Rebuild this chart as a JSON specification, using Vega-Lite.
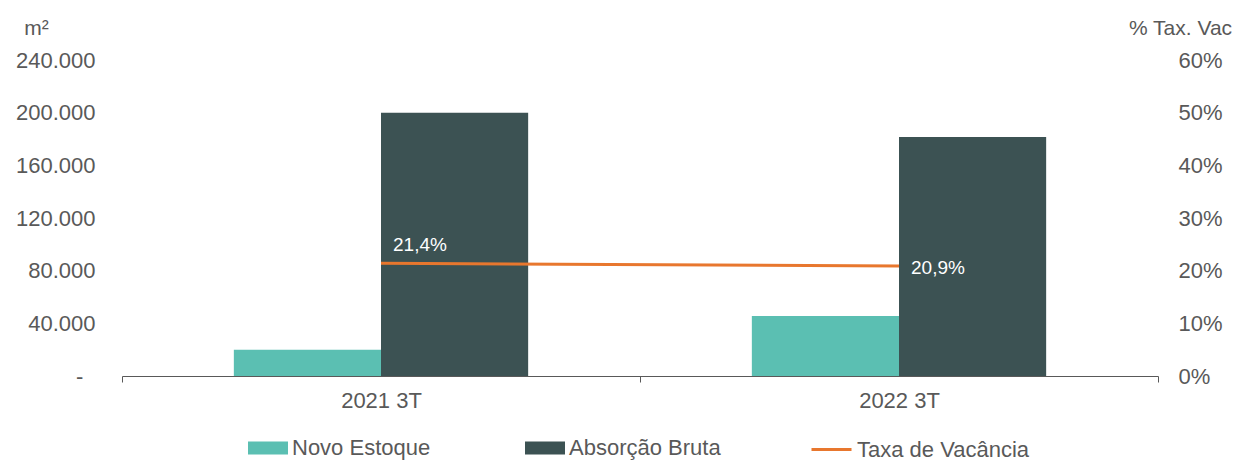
{
  "$schema": "https://vega.github.io/schema/vega-lite/v6.json",
  "width": 1036,
  "height": 316,
  "autosize": {"type": "none"},
  "padding": {"left": 122, "top": 60, "right": 79, "bottom": 85},
  "background": "#ffffff",
  "config": {
    "locale": {"number": {"decimal": ",", "thousands": ".", "grouping": [3], "currency": ["R$", ""]}},
    "view": {"stroke": null},
    "font": "Liberation Sans",
    "axis": {
      "labelFont": "Liberation Sans",
      "labelFontSize": 22,
      "labelColor": "#595959",
      "titleFont": "Liberation Sans",
      "titleFontSize": 21,
      "titleColor": "#595959",
      "titleFontWeight": "normal",
      "grid": false
    },
    "legend": {
      "labelFont": "Liberation Sans",
      "labelFontSize": 22,
      "labelColor": "#595959",
      "labelLimit": 400
    }
  },
  "datasets": {
    "bars": [
      {"periodo": "2021 3T", "serie": "Novo Estoque", "area": 20000},
      {"periodo": "2021 3T", "serie": "Absorção Bruta", "area": 200000},
      {"periodo": "2022 3T", "serie": "Novo Estoque", "area": 45500},
      {"periodo": "2022 3T", "serie": "Absorção Bruta", "area": 181500}
    ],
    "taxa": [
      {"periodo": "2021 3T", "serie": "Taxa de Vacância", "taxa": 0.214},
      {"periodo": "2022 3T", "serie": "Taxa de Vacância", "taxa": 0.209}
    ]
  },
  "encoding": {
    "x": {
      "field": "periodo",
      "type": "nominal",
      "sort": ["2021 3T", "2022 3T"],
      "scale": {"paddingInner": 0, "paddingOuter": 0},
      "axis": {
        "title": null,
        "labelAngle": 0,
        "tickBand": "extent",
        "ticks": true,
        "tickSize": 6,
        "tickColor": "#595959",
        "domainColor": "#595959",
        "domainWidth": 1,
        "labelPadding": 8
      }
    }
  },
  "layer": [
    {
      "data": {"name": "bars"},
      "mark": {"type": "bar"},
      "encoding": {
        "xOffset": {
          "field": "serie",
          "type": "nominal",
          "sort": ["Novo Estoque", "Absorção Bruta"],
          "scale": {"paddingInner": 0, "paddingOuter": 0.76}
        },
        "y": {
          "field": "area",
          "type": "quantitative",
          "scale": {"domain": [0, 240000], "nice": false},
          "axis": {
            "title": "m²",
            "values": [0, 40000, 80000, 120000, 160000, 200000, 240000],
            "format": ",.0f",
            "labelExpr": "datum.value == 0 ? '-\u00a0\u00a0\u200b' : datum.label",
            "domain": false,
            "ticks": false,
            "labelPadding": 27,
            "titleAngle": 0,
            "titleX": -86,
            "titleY": -32,
            "titleAlign": "center",
            "titleBaseline": "middle"
          }
        },
        "color": {
          "field": "serie",
          "type": "nominal",
          "sort": ["Novo Estoque", "Absorção Bruta"],
          "scale": {"domain": ["Novo Estoque", "Absorção Bruta"], "range": ["#5BBFB2", "#3C5253"]},
          "legend": {
            "orient": "none",
            "legendX": 126,
            "legendY": 368,
            "direction": "horizontal",
            "title": null,
            "symbolType": "M-1,-0.325H1V0.325H-1Z",
            "symbolSize": 1600,
            "symbolStrokeWidth": 0,
            "symbolOpacity": 1,
            "labelOffset": 4,
            "columnPadding": 94
          }
        }
      }
    },
    {
      "data": {"name": "taxa"},
      "encoding": {
        "y": {
          "field": "taxa",
          "type": "quantitative",
          "scale": {"domain": [0, 0.6], "nice": false},
          "axis": {
            "orient": "right",
            "title": "% Tax. Vac",
            "values": [0, 0.1, 0.2, 0.3, 0.4, 0.5, 0.6],
            "format": ".0%",
            "domain": false,
            "ticks": false,
            "labelPadding": 20,
            "titleAngle": 0,
            "titleX": 22,
            "titleY": -32,
            "titleAlign": "center",
            "titleBaseline": "middle"
          }
        }
      },
      "layer": [
        {
          "mark": {"type": "line", "strokeWidth": 3},
          "encoding": {
            "stroke": {
              "field": "serie",
              "type": "nominal",
              "scale": {"domain": ["Taxa de Vacância"], "range": ["#E8772E"]},
              "legend": {
                "orient": "none",
                "legendX": 688,
                "legendY": 368,
                "direction": "horizontal",
                "title": null,
                "symbolType": "stroke",
                "symbolSize": 1600,
                "symbolStrokeWidth": 3,
                "labelOffset": 4
              }
            }
          }
        },
        {
          "transform": [{"filter": "datum.periodo == '2021 3T'"}],
          "mark": {"type": "text", "align": "left", "baseline": "middle", "dx": 12, "dy": -18, "fontSize": 19, "color": "#FFFFFF", "font": "Liberation Sans"},
          "encoding": {"text": {"field": "taxa", "type": "quantitative", "format": ".1%"}}
        },
        {
          "transform": [{"filter": "datum.periodo == '2022 3T'"}],
          "mark": {"type": "text", "align": "left", "baseline": "middle", "dx": 12, "dy": 2, "fontSize": 19, "color": "#FFFFFF", "font": "Liberation Sans"},
          "encoding": {"text": {"field": "taxa", "type": "quantitative", "format": ".1%"}}
        }
      ]
    }
  ],
  "resolve": {"scale": {"y": "independent"}}
}
